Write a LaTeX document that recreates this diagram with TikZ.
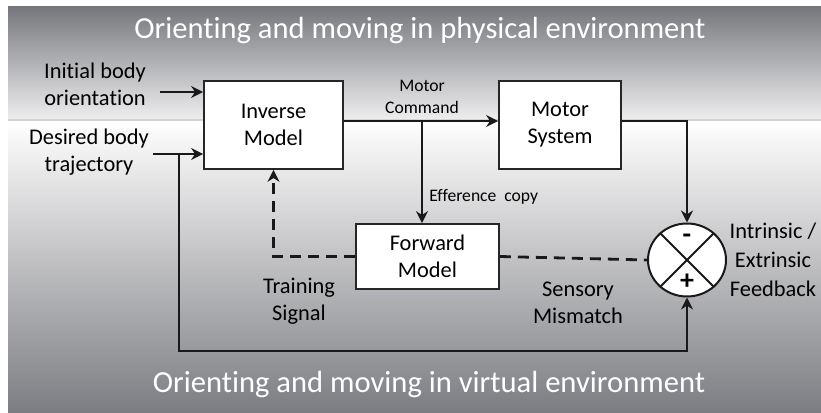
\documentclass[tikz,border=0pt]{standalone}
\usepackage{fontspec}
\setmainfont[Ligatures=NoCommon]{Carlito}
\usetikzlibrary{arrows.meta,shapes.geometric}
\definecolor{bgtop}{HTML}{77787D}
\definecolor{bgmid}{HTML}{EEEEEF}
\definecolor{bgbottom}{HTML}{7C7D82}
\definecolor{divider}{HTML}{D2D2D4}

\begin{document}
\begin{tikzpicture}[x=0.5pt, y=0.5pt, >={Stealth[length=6pt,width=6pt]},
  block/.style={draw=black!85, line width=0.9pt, fill=white, inner sep=0pt, align=center, font=\fontsize{11.2}{13.5}\selectfont},
  lab/.style={inner sep=0pt, align=center, font=\fontsize{11.2}{13.5}\selectfont},
  small/.style={inner sep=0pt, align=center, font=\fontsize{8.8}{11}\selectfont},
  envtitle/.style={text=white, inner sep=0pt, font=\fontsize{15.3}{19}\selectfont},
  sign/.style={inner sep=0pt, font=\bfseries\fontsize{14}{14}\selectfont},
  sig/.style={line width=1.4pt, draw=black!90},
  fb/.style={sig, dash pattern=on 5.5pt off 3.5pt}]
% background bands:
\useasboundingbox (0,0) rectangle (821,413);
\shade[top color=bgtop, bottom color=bgmid] (8,293) rectangle (821,406);
\shade[top color=white, bottom color=bgbottom] (8,0) rectangle (821,293);
\draw[divider, line width=0.8pt] (8,293) -- (821,293);
\node[envtitle] (phys) at (420,382) {Orienting and moving in physical environment};
\node[envtitle] (virt) at (429,28) {Orienting and moving in virtual environment};
% blocks:
\node[block, minimum width=69.5pt, minimum height=44pt] (inv) at (273.5,288) {Inverse\\Model};
\node[block, minimum width=61pt, minimum height=44pt] (mot) at (560,288) {Motor\\System};
\node[block, minimum width=71.5pt, minimum height=32.5pt] (fwd) at (427.5,156.5) {Forward\\Model};
\node[ellipse, draw=black!90, line width=1pt, fill=white, inner sep=0pt, minimum width=39pt, minimum height=36.5pt] (sum) at (687,153) {};
\draw[black!90, line width=1pt] (sum.45) -- (sum.225) (sum.135) -- (sum.315);
\node[sign] (minus) at (687,174) {-};
\node[sign] (plus) at (687,131) {+};
% labels:
\node[lab] (initial) at (95,329) {Initial body\\orientation};
\node[lab] (desired) at (89,261) {Desired body\\trajectory};
\node[small] (command) at (422,316) {Motor\\Command};
\node[small, anchor=west] (efference) at (429,216) {Efference\ \ copy};
\node[lab] (training) at (299,112) {Training\\Signal};
\node[lab] (mismatch) at (578,110) {Sensory\\Mismatch};
\node[lab, font=\fontsize{11.2}{14.5}\selectfont] (feedback) at (773,153) {Intrinsic /\\Extrinsic\\Feedback};
% signals:
\coordinate (iniin) at (160,321);
\coordinate (desin) at (153,259);
\coordinate (split) at (179,259);
\coordinate (loop) at (179,62);
\coordinate (cmd) at (422,292);
\draw[sig,->] (iniin) -- (inv.west |- iniin);
\draw[sig,->] (desin) -- (inv.west |- desin);
\draw[sig,->] (split) -- (loop) -| (sum.south);
\draw[sig,->] (inv.east |- cmd) -- (mot.west |- cmd);
\draw[sig,->] (cmd) -- (cmd |- fwd.north);
\draw[sig,->] (mot.east |- cmd) -| (sum.north);
\draw[fb,->] (fwd.west) -| (inv.south);
\draw[fb] (fwd.east) -- (sum.west);
\end{tikzpicture}
\end{document}
